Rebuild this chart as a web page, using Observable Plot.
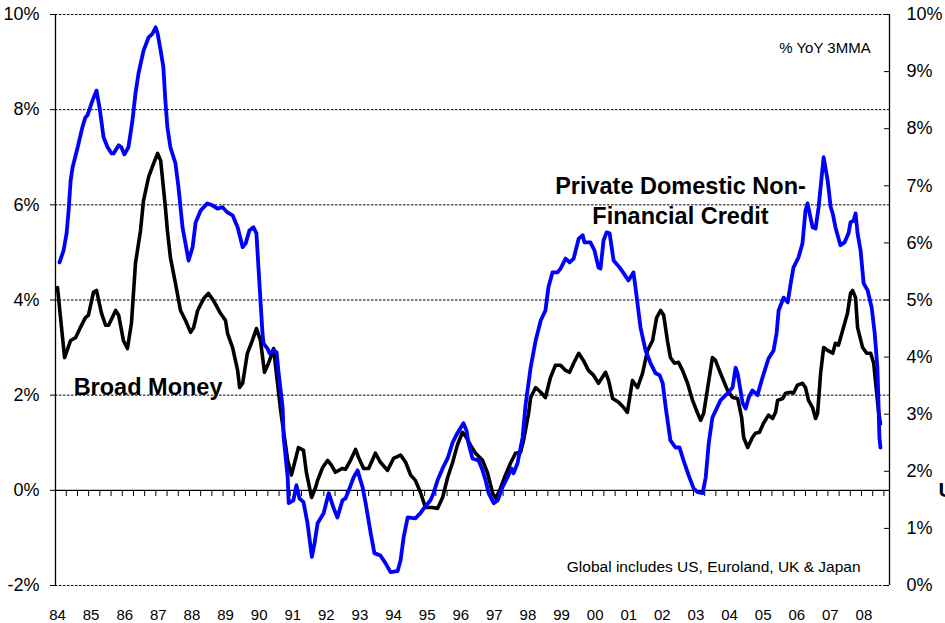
<!DOCTYPE html>
<html><head><meta charset="utf-8">
<script src="https://cdn.jsdelivr.net/npm/d3@7"></script>
<script src="https://cdn.jsdelivr.net/npm/@observablehq/plot@0.6"></script>
<style>
html,body{margin:0;padding:0;background:#fff;}
#chart{position:relative;width:945px;height:623px;overflow:hidden;}
</style></head><body><div id="chart"></div>
<script>
// Private Domestic Non-Financial Credit (% YoY 3MMA)
const creditYears = [1984.06,1984.18,1984.27,1984.33,1984.39,1984.45,1984.60,1984.74,1984.83,1984.89,1985.04,1985.16,1985.25,1985.37,1985.49,1985.61,1985.67,1985.82,1985.90,1985.99,1986.11,1986.23,1986.32,1986.41,1986.56,1986.71,1986.83,1986.92,1986.98,1987.07,1987.15,1987.21,1987.27,1987.36,1987.51,1987.60,1987.66,1987.72,1987.90,1988.02,1988.11,1988.26,1988.46,1988.61,1988.76,1988.91,1989.06,1989.21,1989.36,1989.51,1989.60,1989.71,1989.83,1989.92,1989.98,1990.04,1990.10,1990.13,1990.25,1990.31,1990.43,1990.52,1990.58,1990.70,1990.73,1990.85,1990.88,1991.02,1991.11,1991.20,1991.32,1991.44,1991.57,1991.65,1991.74,1991.92,1992.07,1992.21,1992.33,1992.48,1992.57,1992.69,1992.81,1992.93,1993.08,1993.17,1993.32,1993.43,1993.61,1993.76,1993.91,1994.12,1994.21,1994.30,1994.42,1994.65,1994.80,1994.92,1995.10,1995.19,1995.31,1995.46,1995.61,1995.76,1995.90,1996.08,1996.17,1996.23,1996.35,1996.53,1996.65,1996.74,1996.83,1996.98,1997.10,1997.24,1997.39,1997.51,1997.57,1997.69,1997.84,1997.93,1998.08,1998.23,1998.38,1998.52,1998.61,1998.73,1998.88,1998.97,1999.12,1999.24,1999.36,1999.51,1999.63,1999.68,1999.86,1999.98,2000.10,2000.16,2000.25,2000.34,2000.43,2000.55,2000.73,2000.85,2000.99,2001.14,2001.20,2001.35,2001.50,2001.65,2001.80,2001.92,2002.01,2002.10,2002.24,2002.39,2002.51,2002.63,2002.78,2002.93,2003.05,2003.20,2003.29,2003.38,2003.49,2003.73,2003.94,2004.09,2004.18,2004.24,2004.39,2004.48,2004.57,2004.68,2004.83,2004.98,2005.16,2005.31,2005.40,2005.46,2005.61,2005.73,2005.82,2005.90,2006.05,2006.17,2006.26,2006.32,2006.47,2006.56,2006.65,2006.80,2006.92,2007.01,2007.07,2007.15,2007.30,2007.42,2007.54,2007.60,2007.69,2007.75,2007.81,2007.90,2007.99,2008.11,2008.23,2008.32,2008.40,2008.43,2008.46,2008.49];
const creditValues = [4.79,5.04,5.40,5.88,6.51,6.79,7.21,7.63,7.84,7.88,8.19,8.40,8.05,7.42,7.21,7.08,7.08,7.25,7.21,7.06,7.21,7.77,8.34,8.76,9.24,9.52,9.60,9.73,9.60,9.24,8.89,8.19,7.63,7.21,6.87,6.37,5.95,5.53,4.83,5.11,5.63,5.88,6.03,5.99,5.92,5.95,5.84,5.78,5.53,5.11,5.19,5.46,5.53,5.40,4.68,3.99,3.30,3.09,2.98,2.88,2.94,2.90,2.46,1.74,1.11,0.27,-0.27,-0.21,0.11,-0.17,-0.25,-0.69,-1.40,-1.11,-0.69,-0.48,-0.06,-0.36,-0.57,-0.21,-0.17,0.04,0.27,0.42,0.06,-0.27,-0.90,-1.32,-1.37,-1.53,-1.72,-1.70,-1.47,-0.99,-0.57,-0.59,-0.48,-0.36,-0.21,-0.06,0.21,0.46,0.67,1.01,1.20,1.41,1.26,0.99,0.67,0.63,0.42,0.21,-0.06,-0.27,-0.21,0.06,0.27,0.46,0.36,0.57,1.11,1.80,2.58,3.15,3.57,3.78,4.27,4.58,4.58,4.66,4.87,4.79,4.87,5.29,5.36,5.21,5.21,5.04,4.68,4.66,5.25,5.42,5.40,4.83,4.68,4.56,4.41,4.58,4.27,3.42,2.94,2.67,2.46,2.42,2.25,1.74,1.05,0.90,0.90,0.63,0.32,0.04,-0.04,-0.06,0.27,0.99,1.53,1.89,2.04,2.16,2.58,2.46,1.83,1.72,1.95,2.10,2.00,2.37,2.77,2.94,3.30,3.78,4.05,3.95,4.35,4.68,4.89,5.19,5.88,6.03,5.53,5.50,5.95,7.00,6.51,5.95,5.82,5.53,5.15,5.21,5.40,5.63,5.67,5.82,5.40,5.04,4.35,4.20,3.84,3.30,2.58,1.89,1.11,0.90];

// Broad Money (% YoY 3MMA)
const moneyYears = [1984.00,1984.09,1984.21,1984.39,1984.54,1984.68,1984.83,1984.92,1985.07,1985.16,1985.31,1985.43,1985.52,1985.73,1985.82,1985.96,1986.08,1986.20,1986.32,1986.47,1986.56,1986.71,1986.86,1986.98,1987.07,1987.15,1987.21,1987.27,1987.36,1987.51,1987.66,1987.81,1987.96,1988.05,1988.17,1988.35,1988.49,1988.64,1988.85,1989.00,1989.06,1989.21,1989.36,1989.42,1989.51,1989.65,1989.80,1989.92,1990.04,1990.16,1990.28,1990.43,1990.64,1990.85,1990.96,1991.02,1991.17,1991.32,1991.41,1991.56,1991.68,1991.74,1991.89,1992.04,1992.15,1992.27,1992.48,1992.57,1992.72,1992.87,1992.96,1993.11,1993.26,1993.46,1993.61,1993.82,1994.00,1994.21,1994.36,1994.51,1994.65,1994.80,1994.95,1995.16,1995.31,1995.46,1995.61,1995.76,1995.90,1996.05,1996.17,1996.29,1996.44,1996.65,1996.80,1996.95,1997.04,1997.18,1997.33,1997.48,1997.63,1997.78,1997.87,1998.02,1998.08,1998.23,1998.38,1998.52,1998.67,1998.82,1998.97,1999.12,1999.24,1999.36,1999.51,1999.65,1999.80,1999.95,2000.10,2000.31,2000.40,2000.52,2000.70,2000.85,2000.96,2001.11,2001.26,2001.41,2001.56,2001.71,2001.83,2001.95,2002.04,2002.15,2002.24,2002.36,2002.48,2002.60,2002.75,2002.90,2003.05,2003.14,2003.23,2003.35,2003.49,2003.58,2003.73,2003.94,2004.09,2004.24,2004.36,2004.42,2004.54,2004.68,2004.77,2004.89,2005.01,2005.16,2005.28,2005.37,2005.43,2005.58,2005.67,2005.82,2005.90,2006.02,2006.17,2006.26,2006.35,2006.47,2006.56,2006.62,2006.71,2006.80,2006.92,2007.07,2007.15,2007.24,2007.39,2007.51,2007.60,2007.66,2007.75,2007.81,2007.96,2008.08,2008.20,2008.29,2008.37,2008.43,2008.49];
const moneyValues = [4.26,3.63,2.79,3.15,3.21,3.42,3.63,3.68,4.16,4.20,3.72,3.47,3.47,3.78,3.68,3.15,2.98,3.51,4.77,5.46,6.09,6.58,6.87,7.08,6.93,6.37,5.95,5.46,4.89,4.35,3.78,3.57,3.32,3.42,3.78,4.03,4.14,3.99,3.72,3.57,3.30,3.00,2.52,2.16,2.25,2.88,3.15,3.40,3.15,2.48,2.67,2.98,1.68,0.63,0.32,0.48,0.90,0.84,0.36,-0.15,0.06,0.21,0.48,0.63,0.53,0.38,0.46,0.44,0.63,0.86,0.69,0.46,0.46,0.78,0.59,0.42,0.67,0.74,0.59,0.32,0.21,-0.04,-0.36,-0.36,-0.38,-0.15,0.27,0.59,0.95,1.22,1.11,0.95,0.78,0.63,0.36,-0.06,-0.17,0.04,0.32,0.57,0.78,0.80,1.05,1.62,1.95,2.16,2.06,1.95,2.37,2.63,2.63,2.52,2.48,2.67,2.88,2.73,2.52,2.42,2.25,2.48,2.31,1.93,1.85,1.74,1.64,2.31,2.16,2.46,2.94,3.15,3.63,3.78,3.68,3.15,2.79,2.67,2.69,2.52,2.25,1.89,1.62,1.47,1.62,2.16,2.79,2.73,2.46,2.10,1.95,1.93,1.53,1.11,0.90,1.11,1.20,1.22,1.41,1.58,1.51,1.64,1.89,1.93,2.04,2.06,2.04,2.21,2.25,2.16,1.89,1.74,1.51,1.62,2.46,3.00,2.94,2.88,3.09,3.05,3.42,3.72,4.14,4.20,4.05,3.42,3.00,2.88,2.88,2.67,2.10,1.68,1.40];

const leftTicks = [-2, 0, 2, 4, 6, 8, 10];
const gridTicks = [-2, 2, 4, 6, 8, 10];
const rightTicks = [0, 1, 2, 3, 4, 5, 6, 7, 8, 9, 10];
const yearTicks = d3.range(1984, 2009);
const xDomain = [1983.94, 2008.76];
const yDomain = [-2, 10];
// right axis: 0–10% spans the same height as the left -2–10%
const rightToLeft = r => -2 + r * 1.2;
const leftToRight = v => Math.round((v + 2) / 1.2);
// minor tick marks hanging from the zero line (3 per year)
const zeroLineTicks = d3.range(74).map(k => 1984.26 + k / 3);

const FONT = "'Liberation Sans', Arial, Helvetica, sans-serif";

const credit = creditYears.map((x, i) => ({x, y: creditValues[i]}));
const money = moneyYears.map((x, i) => ({x, y: moneyValues[i]}));

const chart = Plot.plot({
  width: 945,
  height: 623,
  marginLeft: 55,
  marginRight: 56,
  marginTop: 14,
  marginBottom: 38,
  style: {fontFamily: FONT, background: "#fff", color: "#000", overflow: "visible"},
  x: {domain: xDomain, axis: null, label: null},
  y: {domain: yDomain, axis: null, label: null},
  marks: [
    Plot.ruleY(gridTicks, {stroke: "#000", strokeWidth: 1, strokeDasharray: "2.5,1.5"}),
    Plot.ruleY([0], {stroke: "#000", strokeWidth: 1.2}),
    Plot.tickX(zeroLineTicks, {x: d => d, stroke: "#000", strokeWidth: 1, insetTop: 476, insetBottom: 89}),
    Plot.ruleX(xDomain, {stroke: "#000", strokeWidth: 1.3}),
    Plot.tickY(rightTicks.map(rightToLeft), {y: d => d, stroke: "#000", strokeWidth: 1, insetLeft: 829}),
    Plot.axisY(leftTicks, {anchor: "left", label: null, tickSize: 5, tickPadding: 11, tickFormat: d => d + "%", fontSize: 18, stroke: "#000"}),
    Plot.axisY(rightTicks.map(rightToLeft), {anchor: "right", label: null, tickSize: 0, tickPadding: 17, tickFormat: d => leftToRight(d) + "%", fontSize: 18}),
    Plot.axisX(yearTicks, {anchor: "bottom", label: null, tickSize: 0, tickPadding: 24, tickFormat: d => String(d % 100).padStart(2, "0"), fontSize: 15}),
    Plot.line(money, {x: "x", y: "y", stroke: "#000", strokeWidth: 3.6, strokeLinejoin: "round"}),
    Plot.line(credit, {x: "x", y: "y", stroke: "#0000FF", strokeWidth: 3.8, strokeLinejoin: "round"}),
    Plot.text(["Broad Money"], {x: 1984.48, y: 2.0, textAnchor: "start", lineAnchor: "bottom", fontSize: 23.5, fontWeight: "bold", fill: "#000"}),
    Plot.text(["Private Domestic Non-\nFinancial Credit"], {x: 2002.54, y: 5.59, textAnchor: "middle", lineAnchor: "bottom", lineHeight: 1.3, fontSize: 23.5, fontWeight: "bold", fill: "#000"}),
    Plot.text(["% YoY 3MMA"], {x: 2008.20, y: 9.20, textAnchor: "end", lineAnchor: "bottom", fontSize: 15, fill: "#000"}),
    Plot.text(["Global includes US, Euroland, UK & Japan"], {x: 2007.90, y: -1.72, textAnchor: "end", lineAnchor: "bottom", fontSize: 15.5, fill: "#000"}),
    Plot.text(["U"], {y: [0], frameAnchor: "right", dx: 49, textAnchor: "start", fontSize: 21, fontWeight: "bold", fill: "#000"})
  ]
});
document.getElementById("chart").appendChild(chart);
</script>
</body></html>
